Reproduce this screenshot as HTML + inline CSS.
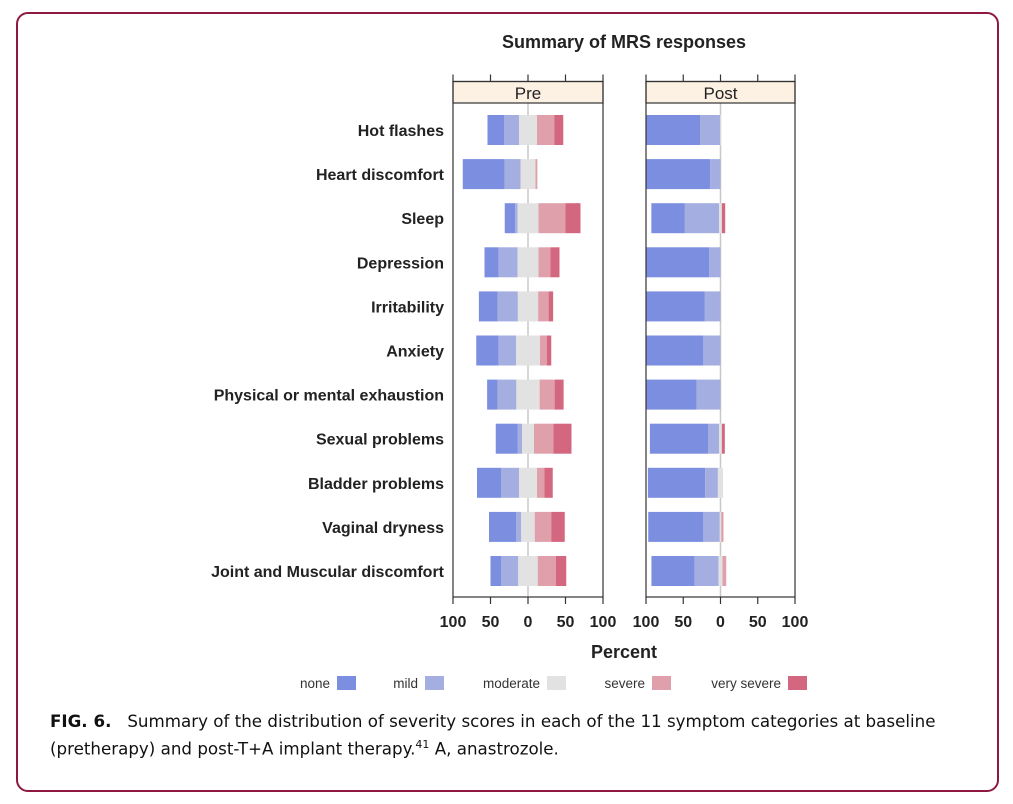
<!DOCTYPE html>
<html><head><meta charset="utf-8"><style>
body{margin:0;background:#fff;width:1013px;height:804px;overflow:hidden;position:relative;font-family:"Liberation Sans",sans-serif}
#frame{position:absolute;left:16px;top:12px;width:979px;height:776px;border:2px solid #8e1840;border-radius:12px}
#cap{position:absolute;left:50px;top:709px;font-family:"DejaVu Sans",sans-serif;font-size:16.7px;line-height:24px;color:#111;width:940px;white-space:nowrap}
svg{position:absolute;left:0;top:0}
</style></head><body>
<div id="frame"></div>
<svg id="chart" width="1013" height="804"></svg>
<div id="cap"><b>FIG. 6.</b>&nbsp;&nbsp; Summary of the distribution of severity scores in each of the 11 symptom categories at baseline<br>(pretherapy) and post-T+A implant therapy.<sup style="font-size:11px">41</sup> A, anastrozole.</div>
<script>
const categories=["Hot flashes","Heart discomfort","Sleep","Depression","Irritability","Anxiety","Physical or mental exhaustion","Sexual problems","Bladder problems","Vaginal dryness","Joint and Muscular discomfort"];
const levels=["none","mild","moderate","severe","very severe"];
const preNone=[22,56,14,19,25,30,14,29,32,36,14];
const preMild=[20,21,3,25,27,23,25,6,24,7,23];
const preModerate=[24,20,28,28,27,32,31,16,24,18,26];
const preSevere=[23,2.5,36,16,14,9,20,26,10,22,24];
const preVery=[12,0,20,12,6,6,12,24,11,18,14];
const postNone=[72,86,45,85,79,77,68,78,77,74,58];
const postMild=[27,14,46,15,21,23,32,15,17,22,32];
const postModerate=[1,0,3.6,0,0,0,0,3.6,7,2,5.4];
const postSevere=[0,0,0,0,0,0,0,0,0,3,5];
const postVery=[0,0,4.5,0,0,0,0,4,0,0,0];
const ticks=[100,50,0,50,100];
const colors=["#7b8ee0","#a5aee0","#e2e2e2","#e0a0ab","#d3677f"];
const NS="http://www.w3.org/2000/svg";
const svg=document.getElementById('chart');
function el(t,a,p){const e=document.createElementNS(NS,t);for(const k in a)e.setAttribute(k,a[k]);(p||svg).appendChild(e);return e;}
const top0=81.5,stripB=103,bot=597,rowY0=130,rowStep=44.1,barH=30;
const panels=[{name:"Pre",x0:453,x1:603,data:[preNone,preMild,preModerate,preSevere,preVery]},{name:"Post",x0:646,x1:795,data:[postNone,postMild,postModerate,postSevere,postVery]}];
let t=el('text',{x:624,y:48,'text-anchor':'middle','font-size':18,'font-weight':'bold',fill:'#222'});t.textContent="Summary of MRS responses";

categories.forEach((c,i)=>{const e=el('text',{x:444,y:rowY0+i*rowStep+6,'text-anchor':'end','font-size':16,'font-weight':'bold',fill:'#222'});e.textContent=c;
});
panels.forEach(p=>{
 const cx=(p.x0+p.x1)/2, sc=(p.x1-p.x0)/200; const X=v=>cx+v*sc;
 const g=el('g',{});
 el('line',{x1:cx,y1:stripB,x2:cx,y2:bot,stroke:'#c8c8c8','stroke-width':1.5},g);
 categories.forEach((c,i)=>{
  const y=rowY0+i*rowStep-barH/2;
  const d=p.data.map(s=>s[i]);
  let left=-(d[0]+d[1]+d[2]/2);
  d.forEach((v,k)=>{ if(v<=0){return;}
   const r=el('rect',{x:X(left),y:y,width:v*sc,height:barH,fill:colors[k]},g);
   
   left+=v;});
 });
 const strip=el('rect',{x:p.x0,y:top0,width:p.x1-p.x0,height:stripB-top0,fill:'#fdf1e3',stroke:'#333','stroke-width':1.2},g);
 
 const st=el('text',{x:cx,y:99,'text-anchor':'middle','font-size':17,fill:'#222'},g);st.textContent=p.name;
 el('rect',{x:p.x0,y:top0,width:p.x1-p.x0,height:bot-top0,fill:'none',stroke:'#333','stroke-width':1.2},g);
 ticks.forEach((v,k)=>{const xv=p.x0+k*(p.x1-p.x0)/4;
  el('line',{x1:xv,y1:top0,x2:xv,y2:top0-7,stroke:'#333','stroke-width':1.2},g);
  el('line',{x1:xv,y1:bot,x2:xv,y2:bot+7,stroke:'#333','stroke-width':1.2},g);
  const tl=el('text',{x:xv,y:627,'text-anchor':'middle','font-size':16,'font-weight':'bold',fill:'#222'},g);tl.textContent=v;
  });
});
t=el('text',{x:624,y:658,'text-anchor':'middle','font-size':18,'font-weight':'bold',fill:'#222'});t.textContent="Percent";

const legX=[330,418,540,645,781];
levels.forEach((l,k)=>{const g=el('g',{});
 const lt=el('text',{x:legX[k],y:688,'text-anchor':'end','font-size':13.5,fill:'#333'},g);lt.textContent=l;
 el('rect',{x:legX[k]+7,y:676,width:19,height:14,fill:colors[k]},g);});
</script>
</body></html>
